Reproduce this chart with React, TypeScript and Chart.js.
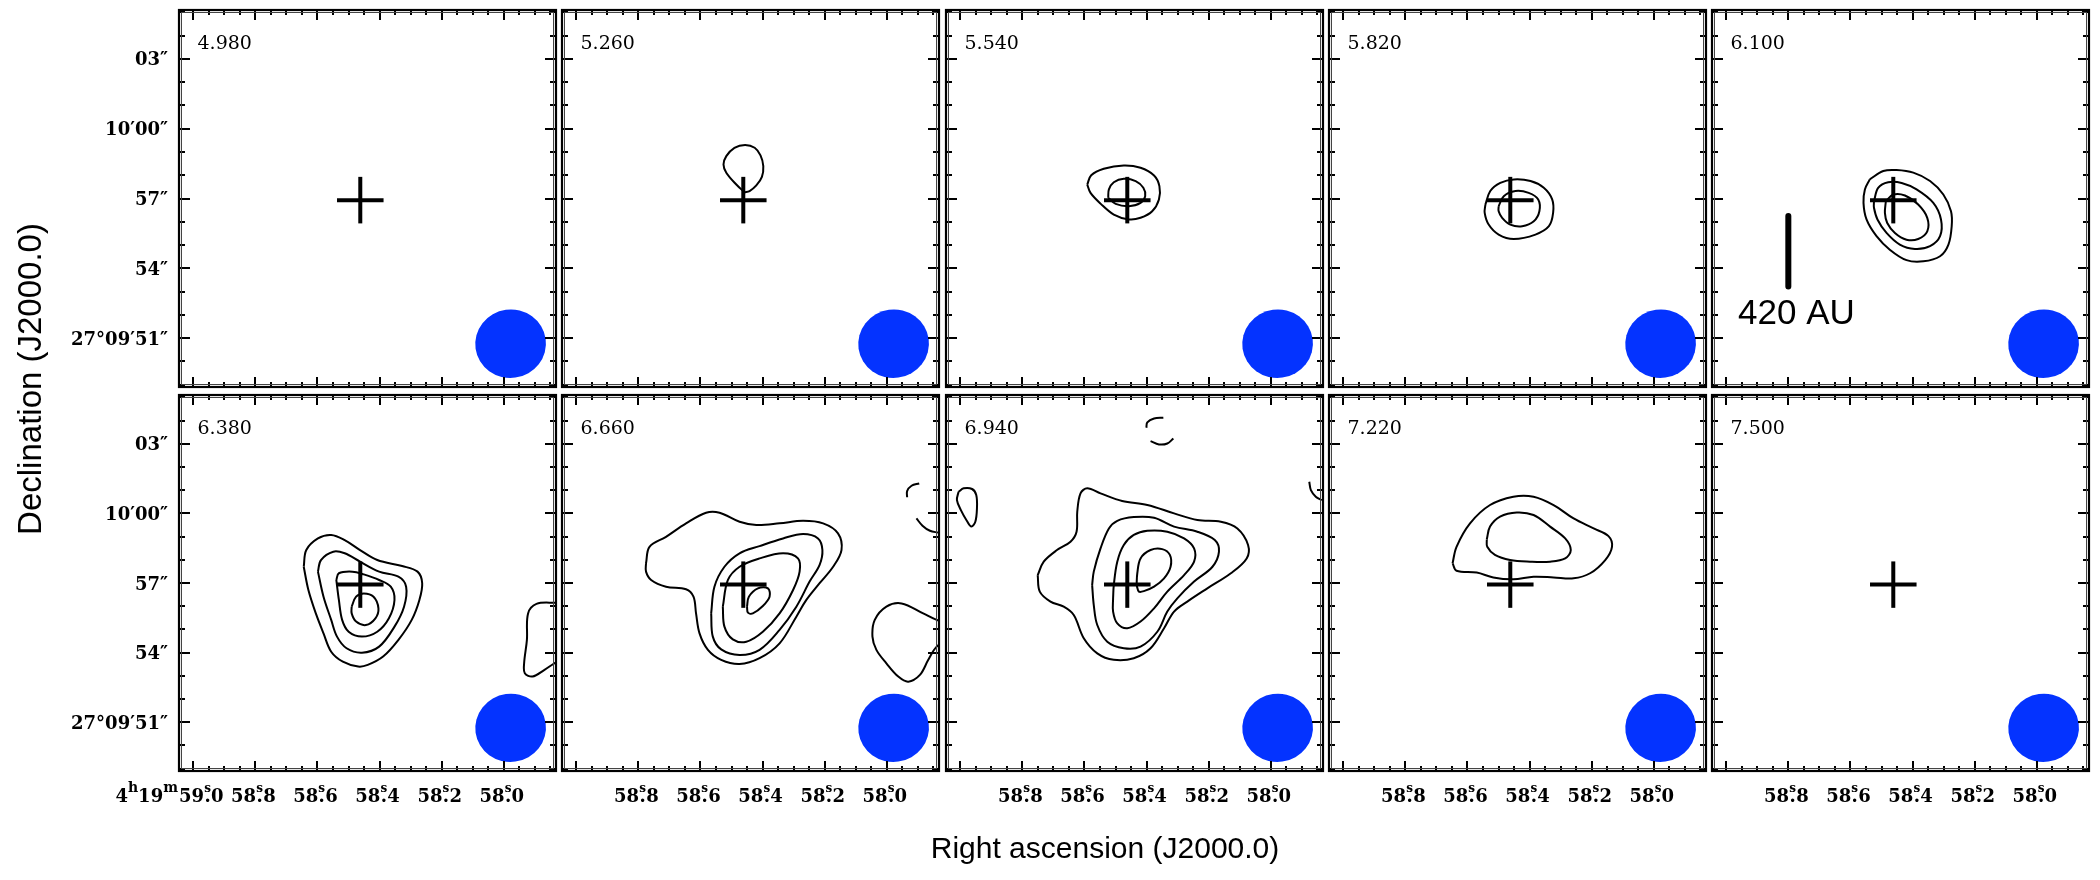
import React, { useEffect, useRef } from 'react';
import { Chart, registerables } from 'chart.js';

Chart.register(...registerables);

type Pt = [number, number];

// ---- channel velocities (km/s) ----
const CHANNEL_LABELS = ['4.980', '5.260', '5.540', '5.820', '6.100', '6.380', '6.660', '6.940', '7.220', '7.500'];

// ---- map reference: RA 4h19m58.4s, Dec +27d09'57"; offsets in arcsec (x = east, y = north) ----
const RA_REF_SEC = 58.4;
const DEC_REF_SEC = 57;
const DEC_DEG = 27.1658;
const ARCSEC_PER_RA_SEC = 15 * Math.cos((DEC_DEG * Math.PI) / 180);
const X_MIN = -7.58;
const X_MAX = 8.62;
const Y_MIN = -8.1;
const Y_MAX = 8.1;

// ---- tick values ----
const RA_MAJOR_TICKS = [59.0, 58.8, 58.6, 58.4, 58.2, 58.0];
const RA_TICK_LABELS = ['59.0', '58.8', '58.6', '58.4', '58.2', '58.0'];
const RA_FIRST_PREFIX = ['4', 'h', '19', 'm'];
const RA_MINOR_TICKS = [59.0, 58.95, 58.9, 58.85, 58.8, 58.75, 58.7, 58.65, 58.6, 58.55, 58.5, 58.45, 58.4, 58.35, 58.3, 58.25, 58.2, 58.15, 58.1, 58.05, 58.0, 57.95, 57.9, 57.85];
const DEC_MAJOR_TICKS = [51, 54, 57, 60, 63];
const DEC_TICK_LABELS = ['27°09′51″', '54″', '57″', '10′00″', '03″'];
const DEC_MINOR_TICKS = [49, 50, 51, 52, 53, 54, 55, 56, 57, 58, 59, 60, 61, 62, 63, 64, 65];

// ---- markers ----
const SOURCE_POS: Pt = [0.83, -0.07];
const CROSS_ARM = 1.0;
const BEAM_CENTER: Pt = [-5.63, -6.24];
const BEAM_AXES: Pt = [3.04, 2.94];
const BEAM_TILT_DEG = 8;
const SCALEBAR_X = 5.34;
const SCALEBAR_Y: Pt = [-0.75, -3.78];
const SCALEBAR_LABEL = '420 AU';
const SCALEBAR_LABEL_POS: Pt = [7.5, -5.4];

// ---- contours (arcsec offsets) ----
const C5260_1: Pt[] = [[0.78, 0.27], [1.13, 0.6], [1.56, 1.11], [1.68, 1.46], [1.56, 1.82], [1.21, 2.18], [0.75, 2.3], [0.34, 2.18], [0.09, 1.85], [-0.03, 1.39], [0.03, 0.93], [0.27, 0.56], [0.56, 0.32]];

const C5540_1: Pt[] = [[2.55, 0.6], [2.38, 1.0], [1.84, 1.28], [0.98, 1.42], [0.26, 1.32], [-0.32, 0.99], [-0.55, 0.53], [-0.53, -0.04], [-0.24, -0.55], [0.26, -0.83], [0.76, -0.9], [1.41, -0.69], [1.98, -0.22], [2.41, 0.24]];
const C5540_2: Pt[] = [[1.65, 0.03], [1.62, 0.39], [1.41, 0.7], [0.98, 0.85], [0.47, 0.75], [0.14, 0.46], [0.06, 0.1], [0.26, -0.19], [0.76, -0.33], [1.33, -0.23]];

const C5820_1: Pt[] = [[1.9, -0.26], [1.69, 0.32], [1.26, 0.67], [0.68, 0.82], [-0.04, 0.75], [-0.61, 0.46], [-0.97, -0.04], [-1.01, -0.62], [-0.83, -1.19], [-0.25, -1.55], [0.68, -1.74], [1.33, -1.55], [1.76, -1.12], [1.93, -0.62]];
const C5820_2: Pt[] = [[1.33, -0.33], [1.11, 0.1], [0.61, 0.32], [0.04, 0.24], [-0.37, -0.04], [-0.42, -0.55], [-0.18, -0.98], [0.32, -1.19], [0.83, -1.12], [1.18, -0.83], [1.33, -0.55]];

const C6100_1: Pt[] = [[1.84, 0.82], [1.26, 1.18], [0.69, 1.22], [-0.03, 1.11], [-0.75, 0.75], [-1.32, 0.17], [-1.65, -0.55], [-1.68, -1.19], [-1.54, -1.98], [-1.18, -2.48], [-0.46, -2.7], [0.26, -2.65], [0.98, -2.2], [1.55, -1.62], [1.98, -0.9], [2.11, -0.19], [2.05, 0.39]];
const C6100_2: Pt[] = [[1.66, -0.12], [1.48, 0.46], [1.05, 0.7], [0.47, 0.67], [-0.17, 0.39], [-0.89, -0.19], [-1.22, -0.9], [-1.18, -1.62], [-0.75, -2.05], [-0.1, -2.17], [0.55, -1.98], [1.12, -1.48], [1.51, -0.9], [1.66, -0.4]];
const C6100_3: Pt[] = [[1.15, -0.12], [0.83, 0.17], [0.33, 0.13], [-0.24, -0.26], [-0.63, -0.83], [-0.63, -1.41], [-0.24, -1.74], [0.26, -1.77], [0.76, -1.48], [1.09, -1.05], [1.19, -0.62]];

const C6380_1: Pt[] = [[3.26, 0.7], [3.15, 1.42], [2.65, 1.92], [2.08, 2.07], [1.5, 1.85], [0.84, 1.42], [0.1, 0.99], [-0.97, 0.73], [-1.63, 0.49], [-1.83, -0.01], [-1.71, -0.73], [-1.38, -1.59], [-0.81, -2.45], [-0.15, -3.17], [0.51, -3.53], [0.92, -3.6], [1.58, -3.39], [2.08, -2.96], [2.41, -2.17], [2.74, -1.31], [3.06, -0.3]];
const C6380_2: Pt[] = [[2.65, 0.49], [2.52, 0.99], [1.99, 1.35], [1.5, 1.28], [0.84, 0.92], [0.02, 0.49], [-0.81, 0.27], [-1.14, -0.16], [-1.05, -1.02], [-0.64, -1.88], [0.02, -2.74], [0.76, -3.0], [1.42, -2.81], [1.83, -2.31], [2.08, -1.59], [2.41, -0.59]];
const C6380_3: Pt[] = [[1.86, 0.13], [1.75, 0.42], [1.17, 0.49], [0.68, 0.37], [0.02, 0.13], [-0.48, -0.16], [-0.64, -0.73], [-0.4, -1.52], [0.1, -2.1], [0.76, -2.31], [1.33, -2.1], [1.61, -1.59], [1.75, -0.73]];
const C6380_4: Pt[] = [[1.2, -1.02], [1.01, -0.59], [0.68, -0.45], [0.26, -0.59], [0.05, -1.09], [0.18, -1.52], [0.59, -1.81], [1.01, -1.66], [1.2, -1.31]];
const O6380_1: Pt[] = [[-8.06, -0.85], [-7.56, -0.85], [-6.74, -0.9], [-6.38, -1.31], [-6.33, -2.45], [-6.21, -3.46], [-6.24, -3.89], [-6.57, -4.03], [-7.07, -3.75], [-7.56, -3.43], [-8.06, -3.17]];

const C6660_1: Pt[] = [[5.01, 0.85], [4.86, 1.56], [4.15, 1.99], [3.29, 2.57], [2.43, 3.03], [1.85, 3.03], [0.99, 2.64], [0.27, 2.5], [-0.73, 2.57], [-1.74, 2.68], [-2.6, 2.57], [-3.24, 2.14], [-3.39, 1.42], [-3.03, 0.7], [-2.45, -0.01], [-1.88, -0.73], [-1.45, -1.45], [-0.73, -2.6], [0.13, -3.24], [0.99, -3.49], [1.78, -3.31], [2.35, -2.88], [2.71, -2.17], [2.86, -1.31], [2.97, -0.59], [3.29, -0.27], [4.15, -0.16], [4.79, 0.13], [5.01, 0.49]];
const C6660_2: Pt[] = [[2.21, -1.31], [2.07, -0.16], [1.64, 0.7], [0.99, 1.28], [0.13, 1.59], [-0.88, 1.92], [-1.74, 2.11], [-2.38, 1.92], [-2.57, 1.42], [-2.45, 0.78], [-2.02, 0.06], [-1.45, -1.02], [-0.73, -2.02], [0.13, -2.88], [0.99, -3.1], [1.78, -2.86], [2.14, -2.31]];
const C6660_3: Pt[] = [[1.71, -1.02], [1.49, 0.13], [0.99, 0.7], [0.13, 1.06], [-0.88, 1.28], [-1.52, 1.06], [-1.59, 0.49], [-1.31, -0.3], [-0.73, -1.31], [-0.01, -2.1], [0.7, -2.53], [1.28, -2.43], [1.64, -1.88]];
const C6660_4: Pt[] = [[0.67, -1.02], [0.59, -0.59], [0.2, -0.23], [-0.23, -0.23], [-0.3, -0.59], [-0.01, -0.99], [0.42, -1.31], [0.63, -1.28]];
const O6660_1: Pt[] = [[-8.05, -1.74], [-7.48, -1.59], [-6.9, -1.31], [-5.97, -0.88], [-5.32, -1.02], [-4.82, -1.59], [-4.72, -2.31], [-4.89, -2.88], [-5.32, -3.46], [-5.83, -4.03], [-6.26, -4.25], [-6.76, -3.96], [-7.12, -3.31], [-7.48, -2.74], [-8.05, -2.38]];
const O6660_2: Pt[] = [[-6.73, 4.29], [-6.4, 4.19], [-6.21, 3.96], [-6.21, 3.69]];
const O6660_3: Pt[] = [[-6.61, 2.78], [-6.87, 2.47], [-7.19, 2.25], [-7.55, 2.17]];

const C6940_1: Pt[] = [[4.68, 0.34], [4.42, 0.92], [3.85, 1.42], [3.27, 1.78], [3.01, 2.21], [2.98, 3.07], [2.84, 3.86], [2.55, 4.08], [1.98, 3.86], [1.05, 3.53], [-0.03, 3.36], [-1.18, 3.0], [-2.18, 2.71], [-3.19, 2.64], [-3.9, 2.35], [-4.36, 1.64], [-4.3, 1.06], [-3.62, 0.42], [-2.61, -0.23], [-1.75, -0.8], [-1.18, -1.23], [-0.75, -1.95], [-0.17, -2.81], [0.55, -3.24], [1.41, -3.31], [2.12, -3.03], [2.7, -2.38], [3.13, -1.38], [3.56, -1.02], [4.13, -0.8], [4.59, -0.37]];
const C6940_2: Pt[] = [[2.34, -0.09], [2.27, 0.49], [1.98, 1.49], [1.62, 2.35], [1.26, 2.68], [0.55, 2.84], [-0.32, 2.81], [-1.18, 2.43], [-2.18, 2.21], [-2.93, 1.85], [-3.11, 1.35], [-2.83, 0.7], [-2.04, 0.06], [-1.32, -0.66], [-0.89, -1.23], [-0.46, -2.1], [0.26, -2.74], [0.98, -2.81], [1.69, -2.53], [2.12, -1.81], [2.27, -0.95]];
const C6940_3: Pt[] = [[1.44, -0.66], [1.41, -0.09], [1.26, 0.92], [0.98, 1.64], [0.55, 2.07], [-0.03, 2.25], [-0.89, 2.21], [-1.61, 1.92], [-2.04, 1.49], [-2.04, 0.92], [-1.61, 0.34], [-0.89, -0.37], [-0.32, -1.09], [0.26, -1.66], [0.83, -1.95], [1.26, -1.74], [1.44, -1.23]];
const C6940_4: Pt[] = [[0.43, -0.09], [0.4, 0.42], [0.26, 1.06], [-0.17, 1.42], [-0.67, 1.46], [-1.0, 1.21], [-1.03, 0.7], [-0.75, 0.2], [-0.32, -0.16], [0.09, -0.34], [0.33, -0.37]];
const C6940_5: Pt[] = [[8.08, 3.93], [7.86, 4.08], [7.5, 4.05], [7.32, 3.79], [7.29, 3.21], [7.36, 2.64], [7.53, 2.43], [7.72, 2.67], [7.98, 3.14], [8.15, 3.57]];
const O6940_1: Pt[] = [[-0.72, 7.12], [-0.32, 7.09], [-0.03, 6.92], [0.01, 6.69]];
const O6940_2: Pt[] = [[-0.17, 6.11], [-0.53, 5.97], [-0.89, 6.01], [-1.15, 6.23]];
const O6940_3: Pt[] = [[-6.99, 4.36], [-7.06, 4.0], [-7.27, 3.72], [-7.53, 3.57]];

const C7220_1: Pt[] = [[3.31, 0.85], [3.14, 1.56], [2.56, 2.57], [1.7, 3.36], [0.7, 3.72], [-0.17, 3.72], [-1.03, 3.36], [-1.89, 2.78], [-2.75, 2.35], [-3.39, 2.02], [-3.54, 1.56], [-3.25, 0.99], [-2.6, 0.42], [-1.89, 0.2], [-1.03, 0.24], [-0.17, 0.27], [0.7, 0.16], [1.56, 0.24], [2.27, 0.45], [3.14, 0.53]];
const C7220_2: Pt[] = [[1.84, 1.88], [1.7, 2.43], [1.27, 2.86], [0.55, 3.04], [-0.17, 2.93], [-0.88, 2.43], [-1.53, 1.92], [-1.77, 1.42], [-1.53, 1.06], [-0.88, 0.92], [-0.02, 0.92], [0.84, 0.99], [1.49, 1.21], [1.82, 1.56]];

const PANEL_CLOSED: Pt[][][] = [
  [],
  [C5260_1],
  [C5540_1, C5540_2],
  [C5820_1, C5820_2],
  [C6100_1, C6100_2, C6100_3],
  [C6380_1, C6380_2, C6380_3, C6380_4],
  [C6660_1, C6660_2, C6660_3, C6660_4],
  [C6940_1, C6940_2, C6940_3, C6940_4, C6940_5],
  [C7220_1, C7220_2],
  [],
];
const PANEL_OPEN: Pt[][][] = [[], [], [], [], [], [O6380_1], [O6660_1, O6660_2, O6660_3], [O6940_1, O6940_2, O6940_3], [], []];

// ---- layout (pixels) ----
const PANEL_LEFTS = [179, 562, 946, 1329, 1712];
const PANEL_TOPS = [10, 395];
const PANEL_SIZE = 377;
const PAD = 8;
const LEFT_MARGIN = 179;
const BOTTOM_MARGIN = 109;
const BEAM_COLOR = '#0433ff';

const raOff = (ra: number) => (ra - RA_REF_SEC) * ARCSEC_PER_RA_SEC;
const decOff = (d: number) => d - DEC_REF_SEC;

const BOLD = 'bold 18px "DejaVu Serif", serif';

function drawRaLabel(ctx: CanvasRenderingContext2D, text: string, cx: number, baseY: number, prefix: string[] | null) {
  const [ip, fp] = text.split('.');
  ctx.font = BOLD;
  const wI = ctx.measureText(ip).width;
  const wDot = ctx.measureText('.').width;
  const wD = Math.max(wDot, 7);
  const wF = ctx.measureText(fp).width;
  const total = wI + wD + wF;
  const x0 = cx - total / 2;
  ctx.textAlign = 'left';
  ctx.textBaseline = 'alphabetic';
  ctx.fillText(ip, x0, baseY);
  ctx.fillText('.', x0 + wI + (wD - wDot) / 2, baseY);
  ctx.fillText(fp, x0 + wI + wD, baseY);
  ctx.font = 'bold 12px "DejaVu Serif", serif';
  ctx.textAlign = 'center';
  ctx.fillText('s', x0 + wI + wD / 2, baseY - 10);
  if (prefix) {
    let x = x0 - 1;
    for (let i = prefix.length - 1; i >= 0; i--) {
      const seg = prefix[i];
      const sup = /[a-z]/.test(seg);
      ctx.font = sup ? 'bold 14px "DejaVu Serif", serif' : BOLD;
      const w = ctx.measureText(seg).width;
      x -= w;
      ctx.textAlign = 'left';
      ctx.fillText(seg, x, sup ? baseY - 10 : baseY);
    }
  }
}

const decorPlugin = {
  id: 'panelDecor',
  beforeDatasetsDraw(chart: any) {
    const { ctx, chartArea: a, scales } = chart;
    const xs = scales.x;
    const ys = scales.y;
    const ppx = Math.abs(xs.getPixelForValue(1) - xs.getPixelForValue(0));
    const ppy = Math.abs(ys.getPixelForValue(1) - ys.getPixelForValue(0));
    ctx.save();
    ctx.beginPath();
    ctx.rect(a.left, a.top, a.right - a.left, a.bottom - a.top);
    ctx.clip();
    ctx.fillStyle = BEAM_COLOR;
    ctx.beginPath();
    ctx.ellipse(
      xs.getPixelForValue(BEAM_CENTER[0]),
      ys.getPixelForValue(BEAM_CENTER[1]),
      (BEAM_AXES[0] / 2) * ppx,
      (BEAM_AXES[1] / 2) * ppy,
      (-BEAM_TILT_DEG * Math.PI) / 180,
      0,
      Math.PI * 2
    );
    ctx.fill();
    ctx.restore();
  },
  afterDatasetsDraw(chart: any, _a: any, opts: any) {
    const { ctx, chartArea: a, scales } = chart;
    const xs = scales.x;
    const ys = scales.y;
    ctx.save();
    ctx.strokeStyle = '#000';
    ctx.fillStyle = '#000';
    // ticks
    ctx.lineWidth = 2;
    ctx.beginPath();
    for (const ra of RA_MINOR_TICKS) {
      const major = RA_MAJOR_TICKS.some((m) => Math.abs(m - ra) < 1e-6);
      const len = major ? 10 : 5;
      const px = Math.round(xs.getPixelForValue(raOff(ra)));
      ctx.moveTo(px, a.bottom);
      ctx.lineTo(px, a.bottom - len);
      ctx.moveTo(px, a.top);
      ctx.lineTo(px, a.top + len);
    }
    for (const d of DEC_MINOR_TICKS) {
      const major = DEC_MAJOR_TICKS.includes(d);
      const len = major ? 11 : 6;
      const py = Math.round(ys.getPixelForValue(decOff(d)));
      ctx.moveTo(a.left, py);
      ctx.lineTo(a.left + len, py);
      ctx.moveTo(a.right, py);
      ctx.lineTo(a.right - len, py);
    }
    ctx.stroke();
    // frame (double line)
    ctx.lineWidth = 2.2;
    ctx.strokeRect(a.left, a.top, a.right - a.left, a.bottom - a.top);
    ctx.lineWidth = 1;
    ctx.strokeStyle = '#444';
    ctx.strokeRect(a.left + 2.5, a.top + 2.5, a.right - a.left - 5, a.bottom - a.top - 5);
    ctx.strokeStyle = '#000';

    // channel label
    ctx.font = '19px "DejaVu Serif", serif';
    ctx.textAlign = 'left';
    ctx.textBaseline = 'alphabetic';
    ctx.fillText(opts.label, a.left + 18.5, a.top + 39);

    if (opts.showY) {
      ctx.font = BOLD;
      ctx.textAlign = 'right';
      DEC_MAJOR_TICKS.forEach((d, i) => {
        const py = ys.getPixelForValue(decOff(d));
        ctx.fillText(DEC_TICK_LABELS[i], a.left - 11, py + 6.5);
      });
    }
    if (opts.showX) {
      RA_MAJOR_TICKS.forEach((ra, i) => {
        if (i === 0 && !opts.showY) return;
        const px = xs.getPixelForValue(raOff(ra));
        drawRaLabel(ctx, RA_TICK_LABELS[i], px + (i === 0 ? 8 : -2), a.bottom + 30.5, i === 0 ? RA_FIRST_PREFIX : null);
      });
    }
    if (opts.scaleBar) {
      ctx.font = '35px "Liberation Sans", Arial, sans-serif';
      ctx.textAlign = 'left';
      ctx.textBaseline = 'alphabetic';
      ctx.fillText(SCALEBAR_LABEL, xs.getPixelForValue(SCALEBAR_LABEL_POS[0]), ys.getPixelForValue(SCALEBAR_LABEL_POS[1]));
    }
    ctx.restore();
  },
};

const toXY = (pts: Pt[]) => pts.map(([x, y]) => ({ x, y }));

function buildDatasets(idx: number) {
  const ds: any[] = [];
  const line = (data: any[], width: number, tension: number) => ({
    data,
    showLine: true,
    borderColor: '#000',
    backgroundColor: '#000',
    borderWidth: width,
    pointRadius: 0,
    tension,
    fill: false,
    borderCapStyle: 'butt',
    borderJoinStyle: 'round',
  });
  // cross (drawn on top: first datasets)
  ds.push(line([{ x: SOURCE_POS[0] - CROSS_ARM, y: SOURCE_POS[1] }, { x: SOURCE_POS[0] + CROSS_ARM, y: SOURCE_POS[1] }], 4, 0));
  ds.push(line([{ x: SOURCE_POS[0], y: SOURCE_POS[1] - CROSS_ARM }, { x: SOURCE_POS[0], y: SOURCE_POS[1] + CROSS_ARM }], 4, 0));
  if (idx === 4) {
    ds.push(line([{ x: SCALEBAR_X, y: SCALEBAR_Y[0] }, { x: SCALEBAR_X, y: SCALEBAR_Y[1] }], 6, 0));
  }
  for (const c of PANEL_CLOSED[idx]) {
    ds.push(line(toXY([...c, c[0]]), 2, 0.35));
  }
  for (const c of PANEL_OPEN[idx]) {
    ds.push(line(toXY(c), 2, 0.35));
  }
  return ds;
}

function Panel({ idx }: { idx: number }) {
  const ref = useRef<HTMLCanvasElement | null>(null);
  const col = idx % 5;
  const row = Math.floor(idx / 5);
  const padL = col === 0 ? LEFT_MARGIN : PAD;
  const padR = PAD;
  const padT = row === 0 ? PANEL_TOPS[0] : PAD;
  const padB = row === 1 ? BOTTOM_MARGIN : PAD;
  const h = row === 0 ? PANEL_SIZE : PANEL_SIZE - 1;
  const W = padL + PANEL_SIZE + padR;
  const H = padT + h + padB;
  const left = PANEL_LEFTS[col] - padL;
  const top = PANEL_TOPS[row] - padT;

  useEffect(() => {
    if (!ref.current) return;
    const chart = new Chart(ref.current, {
      type: 'scatter',
      data: { datasets: buildDatasets(idx) },
      options: {
        animation: false,
        responsive: false,
        events: [],
        layout: { padding: { left: padL, right: padR, top: padT, bottom: padB } },
        scales: {
          x: { type: 'linear', min: X_MIN, max: X_MAX, reverse: true, display: false },
          y: { type: 'linear', min: Y_MIN, max: Y_MAX, display: false },
        },
        plugins: {
          legend: { display: false },
          tooltip: { enabled: false },
          panelDecor: {
            label: CHANNEL_LABELS[idx],
            showY: col === 0,
            showX: row === 1,
            scaleBar: idx === 4,
          },
        },
      } as any,
      plugins: [decorPlugin as any],
    });
    return () => chart.destroy();
  }, [idx]);

  return (
    <canvas
      ref={ref}
      width={W}
      height={H}
      style={{ position: 'absolute', left, top, width: W, height: H }}
    />
  );
}

export default function App() {
  return (
    <div style={{ position: 'absolute', left: 0, top: 0, width: 2100, height: 880, background: '#fff', overflow: 'hidden' }}>
      {CHANNEL_LABELS.map((_, i) => (
        <Panel key={i} idx={i} />
      ))}
      <div
        style={{
          position: 'absolute',
          left: 30 - 250,
          top: 379 - 20,
          width: 500,
          height: 40,
          lineHeight: '40px',
          textAlign: 'center',
          transform: 'rotate(-90deg)',
          fontFamily: '"Liberation Sans", Arial, sans-serif',
          fontSize: 33,
          color: '#000',
          whiteSpace: 'nowrap',
        }}
      >
        Declination (J2000.0)
      </div>
      <div
        style={{
          position: 'absolute',
          left: 1105 - 300,
          top: 848 - 20,
          width: 600,
          height: 40,
          lineHeight: '40px',
          textAlign: 'center',
          fontFamily: '"Liberation Sans", Arial, sans-serif',
          fontSize: 30,
          color: '#000',
          whiteSpace: 'nowrap',
        }}
      >
        Right ascension (J2000.0)
      </div>
    </div>
  );
}
